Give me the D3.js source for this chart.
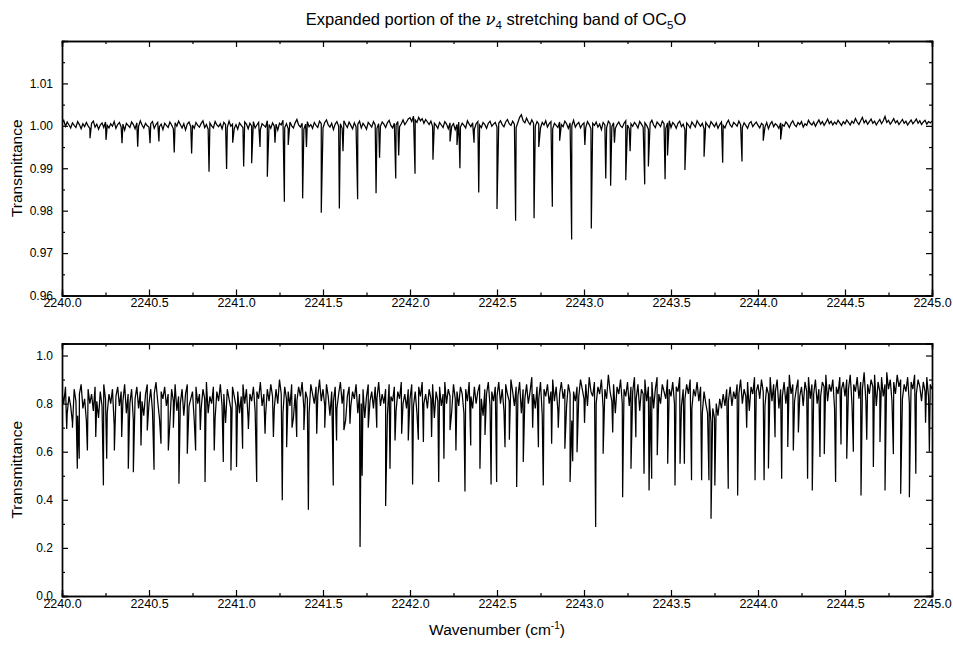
<!DOCTYPE html>
<html>
<head>
<meta charset="utf-8">
<script src="https://cdn.jsdelivr.net/npm/d3@7"></script>
<style>
  body { margin: 0; background: #fff; }
  text { font-family: "Liberation Sans", Arial, sans-serif; fill: #000; }
</style>
</head>
<body>
<svg id="chart" width="953" height="649"></svg>
<script>
// sampling step of the baseline arrays (cm-1), starting at 2240.0
var baseStart = 2240.0, baseStep = 0.01;

// upper panel: baseline (noise), one value per 0.01 cm-1
var topBase = [
  1.0006,1.0013,0.9999,1.0009,1.0002,0.9995,1.0007,1.0001,0.9996,1.0010,
  1.0003,0.9993,1.0005,0.9998,1.0008,1.0000,0.9994,1.0006,1.0011,0.9997,
  1.0004,0.9992,1.0002,1.0007,0.9996,1.0009,1.0001,0.9995,1.0005,0.9999,
  1.0010,0.9994,1.0003,1.0008,0.9997,1.0004,0.9990,1.0006,1.0001,0.9996,
  1.0009,1.0003,0.9993,1.0007,0.9999,1.0012,1.0002,0.9995,1.0006,1.0000,
  0.9997,1.0005,1.0010,0.9994,1.0003,1.0008,0.9998,1.0004,0.9991,1.0006,
  1.0001,0.9996,1.0009,1.0002,0.9993,1.0007,0.9999,1.0011,1.0003,0.9995,
  1.0005,0.9990,1.0004,1.0009,0.9998,1.0002,0.9994,1.0008,1.0001,0.9997,
  1.0006,1.0012,0.9996,1.0003,0.9992,1.0007,1.0000,0.9995,1.0010,1.0002,
  0.9998,1.0005,0.9993,1.0008,1.0003,0.9996,1.0011,0.9999,1.0004,0.9994,
  1.0003,0.9992,1.0007,1.0001,0.9996,1.0009,1.0004,0.9993,1.0006,0.9999,
  1.0010,0.9995,1.0002,1.0008,0.9991,1.0005,1.0001,0.9997,1.0012,1.0003,
  0.9994,1.0007,0.9999,1.0004,0.9990,1.0006,1.0002,1.0013,0.9996,1.0005,
  0.9993,1.0009,1.0000,0.9995,1.0007,1.0015,1.0002,0.9997,1.0006,0.9992,
  1.0004,1.0010,0.9998,1.0003,0.9994,1.0008,1.0001,0.9996,1.0011,1.0005,
  0.9995,1.0008,1.0014,1.0002,0.9997,1.0006,0.9991,1.0004,1.0010,0.9999,
  1.0005,0.9994,1.0012,1.0003,0.9996,1.0009,1.0001,0.9993,1.0007,0.9998,
  1.0004,1.0011,0.9995,1.0006,1.0000,0.9992,1.0008,1.0003,0.9997,1.0010,
  1.0002,0.9994,1.0005,0.9999,1.0009,1.0004,0.9996,1.0007,1.0013,1.0001,
  0.9995,1.0006,1.0002,1.0010,0.9998,1.0005,1.0014,1.0003,1.0009,1.0016,
  1.0019,1.0010,1.0023,1.0014,1.0008,1.0020,1.0012,1.0017,1.0006,1.0015,
  1.0009,1.0003,1.0011,0.9998,1.0006,1.0001,0.9994,1.0008,1.0002,0.9996,
  1.0010,1.0004,0.9993,1.0007,0.9999,1.0005,0.9991,1.0003,1.0009,0.9997,
  1.0006,1.0001,0.9995,1.0012,1.0004,0.9998,1.0007,0.9992,1.0005,1.0010,
  1.0002,0.9996,1.0008,1.0003,0.9994,1.0006,1.0011,0.9999,1.0004,1.0008,
  0.9997,1.0006,1.0012,1.0003,0.9998,1.0009,1.0015,1.0005,1.0001,1.0011,
  1.0004,0.9996,1.0008,1.0020,1.0026,1.0012,1.0007,1.0018,1.0009,1.0003,
  1.0014,1.0006,0.9999,1.0010,1.0004,0.9995,1.0008,1.0002,1.0012,0.9997,
  1.0005,1.0010,0.9993,1.0006,1.0001,0.9996,1.0009,1.0003,0.9998,1.0011,
  1.0005,0.9994,1.0007,1.0000,1.0013,0.9997,1.0004,1.0008,0.9995,1.0003,
  1.0007,0.9996,1.0010,1.0003,0.9993,1.0006,1.0001,1.0009,0.9997,1.0004,
  0.9991,1.0008,1.0002,0.9995,1.0011,1.0005,0.9998,1.0007,0.9994,1.0003,
  1.0009,1.0000,0.9996,1.0006,1.0012,1.0002,0.9993,1.0005,0.9999,1.0008,
  1.0003,0.9995,1.0010,1.0004,0.9997,1.0007,1.0001,0.9992,1.0006,1.0013,
  1.0002,0.9996,1.0009,1.0004,0.9998,1.0011,1.0005,0.9994,1.0007,1.0012,
  0.9996,1.0008,1.0003,0.9994,1.0006,1.0011,0.9998,1.0004,0.9991,1.0007,
  1.0002,0.9995,1.0009,1.0003,0.9997,1.0012,1.0005,0.9999,1.0006,0.9993,
  1.0008,1.0002,0.9996,1.0010,1.0004,0.9998,1.0007,0.9994,1.0003,1.0009,
  1.0001,0.9995,1.0006,1.0013,1.0002,0.9997,1.0008,1.0004,0.9999,1.0011,
  1.0003,0.9996,1.0007,1.0001,0.9994,1.0006,1.0010,0.9998,1.0004,1.0009,
  1.0001,0.9995,1.0006,1.0002,0.9997,1.0008,0.9993,1.0004,1.0010,0.9998,
  1.0005,1.0001,0.9994,1.0007,1.0003,0.9999,1.0009,1.0004,0.9996,1.0006,
  1.0012,1.0002,0.9998,1.0008,1.0003,1.0010,0.9997,1.0005,1.0001,1.0013,
  1.0006,1.0002,1.0009,0.9999,1.0007,1.0014,1.0004,1.0010,1.0001,1.0008,
  1.0016,1.0005,1.0011,1.0002,1.0009,1.0004,1.0013,1.0007,1.0001,1.0010,
  1.0005,1.0014,1.0008,1.0002,1.0011,1.0006,1.0017,1.0009,1.0003,1.0012,
  1.0020,1.0007,1.0013,1.0004,1.0010,1.0016,1.0006,1.0011,1.0002,1.0009,
  1.0015,1.0005,1.0012,1.0022,1.0008,1.0013,1.0004,1.0010,1.0017,1.0007,
  1.0012,1.0003,1.0009,1.0015,1.0006,1.0011,1.0002,1.0008,1.0014,1.0005,
  1.0010,1.0016,1.0006,1.0012,1.0003,1.0009,1.0013,1.0004,1.0010,1.0007,
  1.0011
];

// upper panel: absorption lines (position cm-1, minimum transmittance)
var topLinePos = [
  2240.161,2240.253,2240.345,2240.435,2240.506,2240.557,2240.645,2240.745,2240.845,2240.946,
  2240.981,2241.044,2241.090,2241.138,2241.180,2241.224,2241.278,2241.300,2241.383,2241.405,
  2241.490,2241.594,2241.615,2241.699,2241.805,2241.825,2241.918,2241.935,2242.029,2242.132,
  2242.230,2242.270,2242.287,2242.368,2242.395,2242.500,2242.607,2242.713,2242.740,2242.818,
  2242.860,2242.929,2243.005,2243.042,2243.125,2243.153,2243.175,2243.240,2243.265,2243.349,
  2243.370,2243.466,2243.480,2243.580,2243.690,2243.797,2243.908,2244.030,2244.130
];
var topLineMin = [
  0.9971,0.9967,0.9959,0.9951,0.9959,0.9963,0.9937,0.9935,0.9892,0.9898,
  0.9960,0.9904,0.9912,0.9950,0.9880,0.9960,0.9821,0.9955,0.9829,0.9950,
  0.9795,0.9805,0.9940,0.9827,0.9841,0.9925,0.9876,0.9930,0.9887,0.9920,
  0.9963,0.9955,0.9900,0.9960,0.9843,0.9804,0.9776,0.9782,0.9950,0.9809,
  0.9965,0.9732,0.9955,0.9758,0.9876,0.9859,0.9960,0.9872,0.9940,0.9862,
  0.9904,0.9874,0.9930,0.9896,0.9927,0.9913,0.9916,0.9965,0.9968
];

// lower panel: the dense line forest, one value per 0.01 cm-1
var botBase = [
  0.85,0.80,0.87,0.76,0.83,0.79,0.72,0.86,0.81,0.75,
  0.84,0.88,0.78,0.82,0.73,0.86,0.80,0.84,0.77,0.87,
  0.81,0.74,0.85,0.79,0.88,0.82,0.76,0.84,0.80,0.86,
  0.71,0.83,0.87,0.79,0.85,0.81,0.88,0.76,0.84,0.80,
  0.86,0.73,0.82,0.87,0.78,0.85,0.81,0.75,0.84,0.88,
  0.80,0.86,0.77,0.84,0.89,0.81,0.74,0.85,0.82,0.87,
  0.79,0.84,0.72,0.86,0.81,0.88,0.77,0.83,0.80,0.86,
  0.75,0.84,0.88,0.79,0.82,0.85,0.73,0.87,0.80,0.84,
  0.78,0.86,0.82,0.89,0.76,0.83,0.80,0.87,0.74,0.85,
  0.81,0.88,0.79,0.84,0.72,0.86,0.82,0.78,0.87,0.83,
  0.79,0.85,0.76,0.83,0.88,0.80,0.86,0.73,0.84,0.81,
  0.87,0.77,0.85,0.82,0.89,0.79,0.84,0.75,0.86,0.81,
  0.88,0.83,0.78,0.86,0.80,0.90,0.84,0.76,0.87,0.82,
  0.85,0.79,0.88,0.74,0.84,0.81,0.87,0.83,0.89,0.78,
  0.85,0.82,0.76,0.88,0.84,0.80,0.87,0.83,0.90,0.81,
  0.86,0.79,0.88,0.83,0.75,0.85,0.81,0.87,0.78,0.84,
  0.89,0.80,0.86,0.73,0.83,0.87,0.79,0.85,0.82,0.88,
  0.76,0.84,0.80,0.86,0.74,0.83,0.88,0.81,0.85,0.78,
  0.87,0.82,0.89,0.79,0.84,0.80,0.86,0.75,0.88,0.83,
  0.81,0.87,0.77,0.85,0.82,0.89,0.80,0.84,0.78,0.86,
  0.82,0.88,0.79,0.85,0.76,0.87,0.83,0.89,0.80,0.84,
  0.78,0.86,0.82,0.88,0.74,0.85,0.81,0.87,0.79,0.84,
  0.89,0.80,0.86,0.83,0.77,0.88,0.82,0.85,0.79,0.87,
  0.84,0.76,0.86,0.81,0.89,0.83,0.78,0.87,0.80,0.85,
  0.88,0.82,0.75,0.86,0.84,0.89,0.79,0.85,0.81,0.87,
  0.83,0.89,0.80,0.86,0.77,0.88,0.84,0.81,0.90,0.85,
  0.79,0.87,0.83,0.89,0.76,0.86,0.82,0.88,0.80,0.85,
  0.91,0.84,0.78,0.87,0.82,0.89,0.75,0.86,0.83,0.88,
  0.80,0.85,0.90,0.81,0.87,0.77,0.84,0.89,0.82,0.86,
  0.79,0.88,0.84,0.73,0.85,0.81,0.87,0.83,0.90,0.86,
  0.82,0.88,0.79,0.91,0.85,0.83,0.89,0.80,0.87,0.84,
  0.90,0.78,0.86,0.82,0.92,0.85,0.81,0.88,0.76,0.87,
  0.84,0.90,0.80,0.86,0.83,0.89,0.79,0.87,0.85,0.91,
  0.82,0.88,0.77,0.86,0.84,0.90,0.81,0.87,0.83,0.89,
  0.78,0.86,0.91,0.84,0.80,0.88,0.85,0.82,0.90,0.86,
  0.83,0.89,0.80,0.87,0.85,0.91,0.79,0.86,0.82,0.88,
  0.84,0.90,0.78,0.86,0.83,0.89,0.81,0.87,0.76,0.85,
  0.80,0.76,0.82,0.72,0.78,0.74,0.80,0.75,0.82,0.78,
  0.84,0.79,0.86,0.81,0.87,0.79,0.85,0.82,0.88,0.84,
  0.90,0.80,0.86,0.83,0.89,0.77,0.87,0.84,0.91,0.85,
  0.88,0.82,0.90,0.85,0.79,0.87,0.84,0.91,0.81,0.88,
  0.85,0.90,0.78,0.86,0.83,0.89,0.80,0.87,0.92,0.84,
  0.88,0.81,0.86,0.90,0.83,0.87,0.79,0.89,0.85,0.91,
  0.82,0.88,0.84,0.90,0.80,0.86,0.83,0.89,0.87,0.92,
  0.81,0.88,0.85,0.90,0.78,0.87,0.84,0.91,0.86,0.89,
  0.83,0.90,0.86,0.92,0.80,0.88,0.85,0.91,0.82,0.89,
  0.86,0.93,0.81,0.88,0.84,0.90,0.87,0.92,0.79,0.89,
  0.85,0.91,0.83,0.88,0.93,0.86,0.90,0.81,0.89,0.84,
  0.92,0.87,0.90,0.82,0.88,0.85,0.91,0.80,0.89,0.86,
  0.92,0.84,0.90,0.87,0.81,0.89,0.85,0.91,0.83,0.88,
  0.86
];

// lower panel: the deeper lines (position cm-1, minimum transmittance)
var botLinePos = [
  2240.027,2240.060,2240.088,2240.099,2240.146,2240.194,2240.238,2240.257,2240.301,2240.343,
  2240.381,2240.410,2240.454,2240.490,2240.529,2240.569,2240.611,2240.640,2240.672,2240.720,
  2240.768,2240.795,2240.822,2240.875,2240.927,2240.971,2241.003,2241.038,2241.071,2241.119,
  2241.167,2241.215,2241.266,2241.291,2241.322,2241.349,2241.390,2241.416,2241.464,2241.510,
  2241.559,2241.578,2241.620,2241.655,2241.713,2241.725,2241.760,2241.809,2241.860,2241.885,
  2241.914,2241.952,2241.990,2242.015,2242.048,2242.077,2242.124,2242.165,2242.195,2242.230,
  2242.264,2242.316,2242.349,2242.402,2242.431,2242.466,2242.498,2242.546,2242.571,2242.613,
  2242.651,2242.705,2242.738,2242.766,2242.814,2242.852,2242.890,2242.920,2242.935,2242.960,
  2243.003,2243.067,2243.110,2243.165,2243.222,2243.270,2243.298,2243.345,2243.374,2243.389,
  2243.421,2243.481,2243.523,2243.552,2243.577,2243.618,2243.676,2243.718,2243.730,2243.752,
  2243.829,2243.883,2243.935,2243.983,2244.035,2244.060,2244.098,2244.136,2244.171,2244.203,
  2244.232,2244.285,2244.312,2244.356,2244.381,2244.446,2244.477,2244.510,2244.548,2244.592,
  2244.625,2244.663,2244.701,2244.730,2244.778,2244.820,2244.870,2244.907,2244.963,2244.985
];
var botLineMin = [
  0.695,0.700,0.529,0.571,0.605,0.661,0.460,0.571,0.605,0.661,
  0.529,0.515,0.626,0.688,0.525,0.633,0.605,0.700,0.467,0.592,
  0.605,0.690,0.474,0.605,0.557,0.522,0.536,0.612,0.695,0.474,
  0.675,0.661,0.398,0.619,0.700,0.661,0.690,0.359,0.675,0.700,
  0.460,0.647,0.690,0.716,0.204,0.500,0.700,0.700,0.374,0.529,
  0.647,0.675,0.647,0.464,0.650,0.640,0.661,0.474,0.571,0.690,
  0.605,0.435,0.626,0.529,0.670,0.464,0.474,0.619,0.650,0.453,
  0.557,0.700,0.619,0.460,0.633,0.700,0.612,0.474,0.560,0.598,
  0.720,0.287,0.592,0.680,0.411,0.529,0.660,0.508,0.439,0.488,
  0.585,0.550,0.460,0.550,0.550,0.481,0.481,0.481,0.321,0.460,
  0.446,0.418,0.700,0.481,0.481,0.530,0.660,0.488,0.620,0.605,
  0.680,0.488,0.439,0.578,0.590,0.474,0.630,0.571,0.600,0.418,
  0.650,0.536,0.640,0.439,0.590,0.425,0.411,0.508,0.720,0.600
];

// ticks
var xTicks = [2240.0,2240.5,2241.0,2241.5,2242.0,2242.5,2243.0,2243.5,2244.0,2244.5,2245.0];
var xTickLabels = ["2240.0","2240.5","2241.0","2241.5","2242.0","2242.5","2243.0","2243.5","2244.0","2244.5","2245.0"];
var xMinor = [2240.25,2240.75,2241.25,2241.75,2242.25,2242.75,2243.25,2243.75,2244.25,2244.75];
var topYTicks = [0.96,0.97,0.98,0.99,1.00,1.01];
var topYTickLabels = ["0.96","0.97","0.98","0.99","1.00","1.01"];
var topYMinor = [0.965,0.975,0.985,0.995,1.005,1.015];
var botYTicks = [0.0,0.2,0.4,0.6,0.8,1.0];
var botYTickLabels = ["0.0","0.2","0.4","0.6","0.8","1.0"];
var botYMinor = [0.1,0.3,0.5,0.7,0.9];

var svg = d3.select("#chart");
var left = 62, right = 932;

var x = d3.scaleLinear().domain([2240, 2245]).range([left, right]);

// merge baseline samples and line minima into one trace, sorted by wavenumber
function buildTrace(base, pos, mins) {
  var pts = base.map(function(v, i) { return [baseStart + i * baseStep, v]; });
  pos.forEach(function(p, i) { pts.push([p, mins[i]]); });
  pts.sort(function(a, b) { return a[0] - b[0]; });
  return pts;
}

function drawPanel(opt) {
  var y = d3.scaleLinear().domain(opt.domain).range([opt.bottom, opt.top]);
  var g = svg.append("g");

  g.append("defs").append("clipPath").attr("id", opt.id + "clip")
    .append("rect").attr("x", left).attr("y", opt.top)
    .attr("width", right - left).attr("height", opt.bottom - opt.top);

  var trace = buildTrace(opt.base, opt.pos, opt.mins);
  g.append("path")
    .datum(trace)
    .attr("clip-path", "url(#" + opt.id + "clip)")
    .attr("fill", "none")
    .attr("stroke", "#000")
    .attr("stroke-width", 1.25)
    .attr("d", d3.line().x(function(d) { return x(d[0]); }).y(function(d) { return y(d[1]); }));

  // axes, ticks pointing inward on all four sides
  g.append("g").attr("transform", "translate(0," + opt.bottom + ")")
    .call(d3.axisBottom(x).tickValues(xTicks).tickSize(-6).tickPadding(3)
      .tickFormat(function(d, i) { return xTickLabels[i]; }))
    .selectAll("text").style("font-size", "12.5px");
  g.append("g").attr("transform", "translate(0," + opt.bottom + ")")
    .call(d3.axisBottom(x).tickValues(xMinor).tickSize(-3).tickFormat(""));
  g.append("g").attr("transform", "translate(0," + opt.top + ")")
    .call(d3.axisTop(x).tickValues(xTicks).tickSize(-6).tickFormat(""));
  g.append("g").attr("transform", "translate(0," + opt.top + ")")
    .call(d3.axisTop(x).tickValues(xMinor).tickSize(-3).tickFormat(""));

  g.append("g").attr("transform", "translate(" + left + ",0)")
    .call(d3.axisLeft(y).tickValues(opt.yTicks).tickSize(-6).tickPadding(9)
      .tickFormat(function(d, i) { return opt.yLabels[i]; }))
    .selectAll("text").style("font-size", "12px");
  g.append("g").attr("transform", "translate(" + left + ",0)")
    .call(d3.axisLeft(y).tickValues(opt.yMinor).tickSize(-3).tickFormat(""));
  g.append("g").attr("transform", "translate(" + right + ",0)")
    .call(d3.axisRight(y).tickValues(opt.yTicks).tickSize(-6).tickFormat(""));
  g.append("g").attr("transform", "translate(" + right + ",0)")
    .call(d3.axisRight(y).tickValues(opt.yMinor).tickSize(-3).tickFormat(""));

  g.selectAll(".domain").attr("stroke", "#000").attr("stroke-width", 1.4);
  g.selectAll(".tick line").attr("stroke", "#000").attr("stroke-width", 1.2);
  g.selectAll(".tick text").style("font-family", '"Liberation Sans", Arial, sans-serif')
    .attr("fill", "#000");

  g.append("text")
    .attr("transform", "translate(22," + ((opt.top + opt.bottom) / 2) + ") rotate(-90)")
    .attr("text-anchor", "middle")
    .style("font-size", "15.5px")
    .text("Transmittance");
}

drawPanel({ id: "top", top: 41, bottom: 295.5, domain: [0.96, 1.02],
  base: topBase, pos: topLinePos, mins: topLineMin,
  yTicks: topYTicks, yLabels: topYTickLabels, yMinor: topYMinor });

drawPanel({ id: "bot", top: 343.5, bottom: 596, domain: [0, 1.05],
  base: botBase, pos: botLinePos, mins: botLineMin,
  yTicks: botYTicks, yLabels: botYTickLabels, yMinor: botYMinor });

// title with italic nu and subscripts
var title = svg.append("text").attr("x", 496).attr("y", 24.5)
  .attr("text-anchor", "middle").style("font-size", "16.5px");
title.append("tspan").text("Expanded portion of the ");
title.append("tspan").style("font-style", "italic").style("font-family", '"DejaVu Serif", serif').text("\u03bd");
title.append("tspan").attr("dy", 4).style("font-size", "11.5px").text("4");
title.append("tspan").attr("dy", -4).text(" stretching band of OC");
title.append("tspan").attr("dy", 4).style("font-size", "11.5px").text("5");
title.append("tspan").attr("dy", -4).text("O");

// x axis title
var xt = svg.append("text").attr("x", 497).attr("y", 635)
  .attr("text-anchor", "middle").style("font-size", "15.5px");
xt.append("tspan").text("Wavenumber (cm");
xt.append("tspan").attr("dy", -6).style("font-size", "10px").text("-1");
xt.append("tspan").attr("dy", 6).text(")");
</script>
</body>
</html>
